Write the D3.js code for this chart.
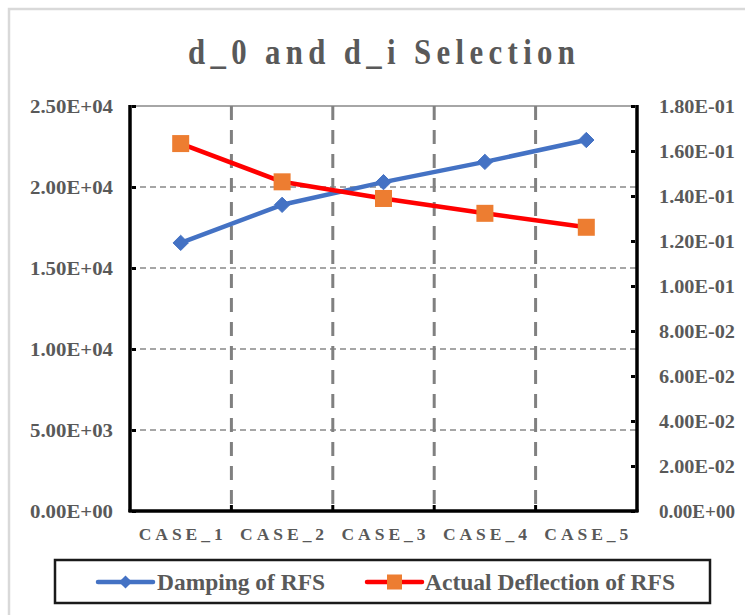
<!DOCTYPE html>
<html>
<head>
<meta charset="utf-8">
<script src="https://cdn.jsdelivr.net/npm/d3@7"></script>
<style>
  html, body { margin: 0; padding: 0; background: #fff; }
  svg { display: block; }
  text { font-family: "Liberation Serif", "Times New Roman", "DejaVu Serif", serif; font-weight: bold; fill: #595959; }
</style>
</head>
<body>
<svg id="chart" width="745" height="615"></svg>
<script>
// ---- data ----
const categories = ["CASE_1", "CASE_2", "CASE_3", "CASE_4", "CASE_5"];
const damping = [16550, 18900, 20300, 21550, 22900];        // left axis
const deflection = [0.1633, 0.1463, 0.1389, 0.1323, 0.1261]; // right axis
const leftTicks = [0, 5000, 10000, 15000, 20000, 25000];
const rightTicks = [0, 0.02, 0.04, 0.06, 0.08, 0.10, 0.12, 0.14, 0.16, 0.18];
const titleText = "d_0 and d_i Selection";
const seriesNames = ["Damping of RFS", "Actual Deflection of RFS"];

const FONT = "Liberation Serif, Times New Roman, DejaVu Serif, serif";
const svg = d3.select("#chart");
const W = 745, H = 615;
const plot = { left: 130, right: 637, top: 106, bottom: 511 };

// outer frame (only top & left visible)
svg.append("rect").attr("x", 9).attr("y", 9).attr("width", W + 10).attr("height", H + 10)
  .attr("fill", "#fff").attr("stroke", "#d9d9d9").attr("stroke-width", 2.5);

// title (tall, slightly condensed, spaced)
const sx = 0.88;
svg.append("text").attr("transform", `translate(188,64) scale(${sx},1)`)
  .attr("font-size", 35).attr("textLength", 387 / sx).attr("lengthAdjust", "spacing")
  .text(titleText);

const x = d3.scaleBand().domain(categories).range([plot.left, plot.right]);
const yL = d3.scaleLinear().domain([0, 25000]).range([plot.bottom, plot.top]);
const yR = d3.scaleLinear().domain([0, 0.18]).range([plot.bottom, plot.top]);

const fmtExp = v => {
  if (v === 0) return "0.00E+00";
  const e = Math.floor(Math.log10(Math.abs(v)) + 1e-9);
  const m = v / Math.pow(10, e);
  const sign = e < 0 ? "-" : "+";
  return m.toFixed(2) + "E" + sign + String(Math.abs(e)).padStart(2, "0");
};

// horizontal gridlines (left axis)
svg.append("g").selectAll("line").data(leftTicks.filter(t => t > 0 && t < 25000)).join("line")
  .attr("x1", plot.left).attr("x2", plot.right)
  .attr("y1", d => yL(d)).attr("y2", d => yL(d))
  .attr("stroke", "#a6a6a6").attr("stroke-width", 2).attr("stroke-dasharray", "6,4");
// top border (solid)
svg.append("line").attr("x1", plot.left).attr("x2", plot.right)
  .attr("y1", yL(25000)).attr("y2", yL(25000))
  .attr("stroke", "#a6a6a6").attr("stroke-width", 2);

// vertical gridlines at category boundaries
const bounds = categories.slice(1).map(c => x(c));
svg.append("g").selectAll("line").data(bounds).join("line")
  .attr("x1", d => d).attr("x2", d => d)
  .attr("y1", plot.top).attr("y2", plot.bottom)
  .attr("stroke", "#808080").attr("stroke-width", 3).attr("stroke-dasharray", "14,10");

// left axis
const gL = svg.append("g").attr("transform", `translate(${plot.left},0)`)
  .call(d3.axisLeft(yL).tickValues(leftTicks).tickSize(-6).tickPadding(17).tickFormat(fmtExp));
gL.attr("font-family", FONT);
gL.select(".domain").attr("stroke", "#000").attr("stroke-width", 3.5).attr("d", `M0,${plot.top - 1}V${plot.bottom + 1}`);
gL.selectAll(".tick line").attr("stroke", "#000").attr("stroke-width", 3).attr("x1", 2);
gL.selectAll(".tick text").attr("font-size", 19).attr("fill", "#595959")
  .attr("font-weight", "bold").attr("textLength", 83).attr("lengthAdjust", "spacingAndGlyphs");

// right axis
const gR = svg.append("g").attr("transform", `translate(${plot.right},0)`)
  .call(d3.axisRight(yR).tickValues(rightTicks).tickSize(-6).tickPadding(22).tickFormat(fmtExp));
gR.attr("font-family", FONT);
gR.select(".domain").attr("stroke", "#000").attr("stroke-width", 3.5).attr("d", `M0,${plot.top - 1}V${plot.bottom + 1}`);
gR.selectAll(".tick line").attr("stroke", "#000").attr("stroke-width", 3).attr("x1", -2);
gR.selectAll(".tick text").attr("font-size", 19).attr("fill", "#595959")
  .attr("font-weight", "bold").attr("textLength", 76).attr("lengthAdjust", "spacingAndGlyphs");

// bottom axis
const gB = svg.append("g").attr("transform", `translate(0,${plot.bottom})`)
  .call(d3.axisBottom(x).tickSize(0).tickPadding(17));
gB.attr("font-family", FONT);
gB.select(".domain").attr("stroke", "#000").attr("stroke-width", 3.5).attr("d", `M${plot.left - 1.5},0H${plot.right + 1.5}`);
gB.selectAll(".tick text").attr("font-size", 17.5).attr("fill", "#595959")
  .attr("font-weight", "bold").attr("textLength", 84).attr("lengthAdjust", "spacing");
gB.append("g").selectAll("line").data(bounds).join("line")
  .attr("x1", d => d).attr("x2", d => d).attr("y1", 0).attr("y2", -6)
  .attr("stroke", "#000").attr("stroke-width", 3);

// series lines
const cx = c => x(c) + x.bandwidth() / 2;
const lineL = d3.line().x((d, i) => cx(categories[i])).y(d => yL(d));
const lineR = d3.line().x((d, i) => cx(categories[i])).y(d => yR(d));

svg.append("path").datum(damping).attr("d", lineL)
  .attr("fill", "none").attr("stroke", "#4472C4").attr("stroke-width", 4.5).attr("stroke-linejoin", "round");
svg.append("path").datum(deflection).attr("d", lineR)
  .attr("fill", "none").attr("stroke", "#FF0000").attr("stroke-width", 4.5).attr("stroke-linejoin", "round");

const diamond = d3.symbol().type(d3.symbolDiamond2).size(150);
svg.append("g").selectAll("path").data(damping).join("path")
  .attr("d", diamond)
  .attr("transform", (d, i) => `translate(${cx(categories[i])},${yL(d)})`)
  .attr("fill", "#4472C4").attr("stroke", "#4472C4").attr("stroke-width", 1);

svg.append("g").selectAll("rect").data(deflection).join("rect")
  .attr("x", (d, i) => cx(categories[i]) - 8.5).attr("y", d => yR(d) - 8.5)
  .attr("width", 17).attr("height", 17)
  .attr("fill", "#ED7D31");

// legend
const lg = svg.append("g");
lg.append("rect").attr("x", 55).attr("y", 560).attr("width", 655).attr("height", 43)
  .attr("fill", "#fff").attr("stroke", "#1a1a1a").attr("stroke-width", 2.5);
const ly = 582;
lg.append("line").attr("x1", 98).attr("x2", 153).attr("y1", ly).attr("y2", ly)
  .attr("stroke", "#4472C4").attr("stroke-width", 4.5).attr("stroke-linecap", "round");
lg.append("path").attr("d", d3.symbol().type(d3.symbolDiamond2).size(110))
  .attr("transform", `translate(125.5,${ly})`).attr("fill", "#4472C4");
lg.append("text").attr("x", 157).attr("y", ly).attr("dy", "0.35em")
  .attr("font-size", 24).attr("textLength", 168).attr("lengthAdjust", "spacingAndGlyphs").text(seriesNames[0]);

lg.append("line").attr("x1", 367).attr("x2", 422).attr("y1", ly).attr("y2", ly)
  .attr("stroke", "#FF0000").attr("stroke-width", 4.5).attr("stroke-linecap", "round");
lg.append("rect").attr("x", 387).attr("y", ly - 7.5).attr("width", 15).attr("height", 15).attr("fill", "#ED7D31");
lg.append("text").attr("x", 425).attr("y", ly).attr("dy", "0.35em")
  .attr("font-size", 24).attr("textLength", 250).attr("lengthAdjust", "spacingAndGlyphs").text(seriesNames[1]);
</script>
</body>
</html>
